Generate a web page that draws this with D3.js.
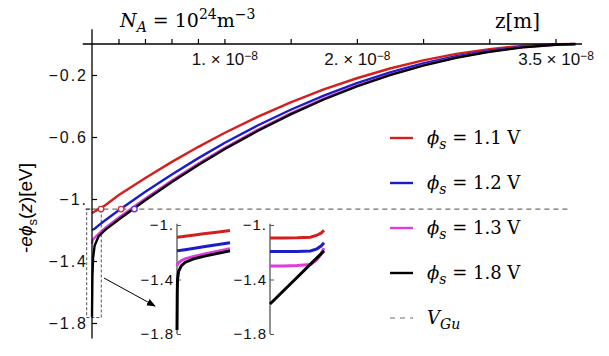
<!DOCTYPE html>
<html>
<head>
<meta charset="utf-8">
<script src="https://cdn.jsdelivr.net/npm/d3@7"></script>
<style>
  body { margin: 0; background: #fff; }
  svg { display: block; }
  .tick text { font-family: "Liberation Sans", Arial, sans-serif; font-size: 16px; fill: #111; }
  .serif { font-family: "DejaVu Serif", "Liberation Serif", serif; }
</style>
</head>
<body>
<svg width="609" height="356"></svg>
<script>
// z in units of 1e-8 m, potential in eV
var zMain = [0, 0.003, 0.008, 0.02, 0.05, 0.1, 0.2, 0.4, 0.6, 0.8, 1.0, 1.25, 1.5, 1.75, 2.0, 2.25, 2.5, 2.75, 3.0, 3.25, 3.5, 3.65];
var red11 = [-1.09, -1.089, -1.087, -1.081, -1.066, -1.04, -0.976, -0.866, -0.762, -0.665, -0.574, -0.470, -0.377, -0.293, -0.221, -0.158, -0.106, -0.064, -0.033, -0.012, -0.002, 0];
var blue12 = [-1.20, -1.199, -1.197, -1.192, -1.17, -1.137, -1.074, -0.955, -0.843, -0.738, -0.639, -0.526, -0.424, -0.333, -0.253, -0.184, -0.126, -0.079, -0.043, -0.018, -0.004, 0];
var mag13 = [-1.29, -1.27, -1.26, -1.25, -1.225, -1.186, -1.121, -0.998, -0.882, -0.773, -0.671, -0.553, -0.448, -0.353, -0.269, -0.197, -0.136, -0.086, -0.048, -0.021, -0.005, -0.001];
var blk18 = [-1.76, -1.50, -1.38, -1.30, -1.24, -1.199, -1.134, -1.010, -0.892, -0.782, -0.679, -0.561, -0.454, -0.358, -0.274, -0.201, -0.139, -0.089, -0.050, -0.022, -0.005, -0.001];

// first inset: linear z, 0 .. 1e-9 m
var zIn1 = [0, 0.0005, 0.001, 0.003, 0.008, 0.015, 0.03, 0.05, 0.075, 0.1];
var red11In1 = [-1.09, -1.0898, -1.0895, -1.0885, -1.086, -1.0825, -1.075, -1.065, -1.0525, -1.04];
var blue12In1 = [-1.19, -1.1897, -1.1894, -1.1882, -1.1852, -1.181, -1.172, -1.16, -1.145, -1.13];
var mag13In1 = [-1.30, -1.295, -1.29, -1.278, -1.262, -1.248, -1.232, -1.215, -1.195, -1.175];
var blk18In1 = [-1.77, -1.50, -1.40, -1.34, -1.30, -1.275, -1.25, -1.23, -1.21, -1.19];

// second inset: log z in metres
var zIn2 = [1e-13, 1e-12, 1e-11, 1e-10, 3e-10, 6e-10, 1e-9];
var red11In2 = [-1.095, -1.095, -1.094, -1.09, -1.075, -1.06, -1.04];
var blue12In2 = [-1.195, -1.195, -1.194, -1.19, -1.175, -1.155, -1.13];
var mag13In2 = [-1.30, -1.30, -1.298, -1.29, -1.255, -1.215, -1.17];
var blk18In2 = [-1.58, -1.4825, -1.385, -1.2875, -1.241, -1.212, -1.19];

var vGu = -1.065;
var markerZ = [0.068, 0.22, 0.32];
var markerColors = ['#d42a2a', '#c8304a', '#5a30e0'];

var seriesNames = ['1.1', '1.2', '1.3', '1.8'];
var seriesColors = ['#d41f1f', '#1c1cc8', '#e03ae0', '#000000'];

var xTicks = [0.2, 0.4, 0.6, 0.8, 1.0, 1.5, 2.0, 2.5, 3.0, 3.5];
var xTickLabels = {1.0: '1.', 2.0: '2.', 3.5: '3.5'};
var yTicks = [-0.2, -0.6, -1.0, -1.4, -1.8];
var insetTicks = [-1.0, -1.4, -1.8];

var svg = d3.select('svg');

/**
 * Scales
 */
var xScale = d3.scaleLinear().domain([0, 3.7]).range([92, 582]);
var yScale = d3.scaleLinear().domain([0, -1.9]).range([44, 338.5]);
var in1X = d3.scaleLinear().domain([0, 0.1]).range([177, 230]);
var in2X = d3.scaleLog().domain([1e-13, 1e-9]).range([270, 324]);
var inY = d3.scaleLinear().domain([-1.0, -1.8]).range([225, 334]);

function fmtY(d) {
    return d === -1 ? '\u22121.' : d3.format('.1f')(d);
}

/**
 * Dashed V_Gu line and zoom box
 */
svg.append('line')
    .attr('x1', xScale(-0.05)).attr('x2', xScale(3.62))
    .attr('y1', yScale(vGu)).attr('y2', yScale(vGu))
    .attr('stroke', '#6e6e6e').attr('stroke-width', 1.3)
    .attr('stroke-dasharray', '5,4');

svg.append('rect')
    .attr('x', xScale(-0.04)).attr('y', yScale(vGu))
    .attr('width', xScale(0.07) - xScale(-0.04))
    .attr('height', yScale(-1.765) - yScale(vGu))
    .attr('fill', 'none').attr('stroke', '#222').attr('stroke-width', 0.8)
    .attr('stroke-dasharray', '3,2');

svg.append('defs').append('marker')
    .attr('id', 'arr').attr('viewBox', '0 0 10 10')
    .attr('refX', 9).attr('refY', 5)
    .attr('markerWidth', 9).attr('markerHeight', 9)
    .attr('orient', 'auto')
    .append('path').attr('d', 'M0,1 L10,5 L0,9 z').attr('fill', '#000');

svg.append('line')
    .attr('x1', 104).attr('y1', 278).attr('x2', 155).attr('y2', 306)
    .attr('stroke', '#000').attr('stroke-width', 1)
    .attr('marker-end', 'url(#arr)');

/**
 * Main curves
 */
var mainSeries = [red11, blue12, mag13, blk18];
var line = d3.line()
    .x(function(d, i){ return xScale(zMain[i]); })
    .y(function(d){ return yScale(d); });

svg.selectAll('.main-curve')
    .data(mainSeries)
    .enter()
    .append('path')
    .attr('class', 'main-curve')
    .attr('d', line)
    .attr('fill', 'none')
    .attr('stroke', function(d, i){ return seriesColors[i]; })
    .attr('stroke-width', 2.4);

svg.selectAll('.marker')
    .data(markerZ)
    .enter()
    .append('circle')
    .attr('cx', function(d){ return xScale(d); })
    .attr('cy', yScale(vGu))
    .attr('r', 2.8)
    .attr('fill', '#fff')
    .attr('stroke', function(d, i){ return markerColors[i]; })
    .attr('stroke-width', 1.3);

/**
 * Main axes
 */
svg.append('line')
    .attr('x1', xScale(-0.07)).attr('x2', xScale(3.7))
    .attr('y1', yScale(0)).attr('y2', yScale(0))
    .attr('stroke', '#000').attr('stroke-width', 1.3);
svg.append('line')
    .attr('x1', xScale(0)).attr('x2', xScale(0))
    .attr('y1', yScale(0.095)).attr('y2', yScale(-1.9))
    .attr('stroke', '#000').attr('stroke-width', 1.3);

var xAxis = d3.axisBottom(xScale)
    .tickValues(xTicks)
    .tickSizeInner(-5).tickSizeOuter(0)
    .tickPadding(9)
    .tickFormat(function(d){ return xTickLabels[d] ? xTickLabels[d] : ''; });
var gx = svg.append('g')
    .attr('transform', 'translate(0,' + yScale(0) + ')')
    .call(xAxis);
gx.select('.domain').remove();
gx.selectAll('.tick line').attr('stroke', '#000').attr('stroke-width', 1.2);
gx.selectAll('.tick text').style('font-size', '17px').each(function(d){
    var t = d3.select(this);
    if (!xTickLabels[d]) return;
    t.text(null);
    t.append('tspan').text(xTickLabels[d] + ' \u00d7 10');
    t.append('tspan').attr('dy', '-0.45em').style('font-size', '12px').text('\u22128');
});

var yAxis = d3.axisLeft(yScale)
    .tickValues(yTicks)
    .tickSizeInner(-5).tickSizeOuter(0)
    .tickPadding(4)
    .tickFormat(fmtY);
var gy = svg.append('g')
    .attr('transform', 'translate(' + xScale(0) + ',0)')
    .call(yAxis);
gy.select('.domain').remove();
gy.selectAll('.tick line').attr('stroke', '#000').attr('stroke-width', 1.2);
gy.selectAll('.tick text').style('font-size', '16px').style('letter-spacing', '2px');

/**
 * Insets
 */
function drawInset(xs, zs, series, axisX) {
    var l = d3.line()
        .x(function(d, i){ return xs(zs[i]); })
        .y(function(d){ return inY(d); });
    svg.append('line')
        .attr('x1', axisX).attr('x2', axisX)
        .attr('y1', inY(-0.99)).attr('y2', inY(-1.8))
        .attr('stroke', '#555').attr('stroke-width', 1.3);
    var ax = d3.axisLeft(inY)
        .tickValues(insetTicks)
        .tickSizeInner(-4).tickSizeOuter(0)
        .tickPadding(3)
        .tickFormat(fmtY);
    var g = svg.append('g')
        .attr('transform', 'translate(' + axisX + ',0)')
        .call(ax);
    g.select('.domain').remove();
    g.selectAll('.tick line').attr('stroke', '#555');
    g.selectAll('.tick text').style('font-size', '15px').style('letter-spacing', '1px');
    svg.append('g').selectAll('path')
        .data(series)
        .enter()
        .append('path')
        .attr('d', l)
        .attr('fill', 'none')
        .attr('stroke', function(d, i){ return seriesColors[i]; })
        .attr('stroke-width', 3);
}
drawInset(in1X, zIn1, [red11In1, blue12In1, mag13In1, blk18In1], in1X(0));
drawInset(in2X, zIn2, [red11In2, blue12In2, mag13In2, blk18In2], in2X(1e-13));

/**
 * Legend
 */
var legend = svg.append('g').attr('transform', 'translate(390,138)');
var rows = legend.selectAll('g')
    .data(seriesNames)
    .enter()
    .append('g')
    .attr('transform', function(d, i){ return 'translate(0,' + (i * 45) + ')'; });
rows.append('line')
    .attr('x1', 0).attr('x2', 23)
    .attr('stroke', function(d, i){ return seriesColors[i]; })
    .attr('stroke-width', 2.4);
var lt = rows.append('text')
    .attr('class', 'serif')
    .attr('x', 37).attr('y', 6)
    .style('font-size', '18px');
lt.append('tspan').style('font-style', 'italic').text('\u03d5');
lt.append('tspan').style('font-style', 'italic').style('font-size', '14px').attr('dy', 5).text('s');
lt.append('tspan').attr('dy', -5).text(function(d){ return ' = ' + d + ' V'; });

var vrow = legend.append('g').attr('transform', 'translate(0,' + (4 * 45) + ')');
vrow.append('line')
    .attr('x1', 0).attr('x2', 23)
    .attr('stroke', '#6e6e6e').attr('stroke-width', 1.2)
    .attr('stroke-dasharray', '5,5');
var vt = vrow.append('text')
    .attr('class', 'serif')
    .attr('x', 37).attr('y', 6)
    .style('font-size', '18px');
vt.append('tspan').style('font-style', 'italic').text('V');
vt.append('tspan').style('font-style', 'italic').style('font-size', '14px').attr('dy', 5).text('Gu');

/**
 * Labels
 */
var na = svg.append('text')
    .attr('class', 'serif')
    .attr('x', 120).attr('y', 27)
    .style('font-size', '19px');
na.append('tspan').style('font-style', 'italic').text('N');
na.append('tspan').style('font-style', 'italic').style('font-size', '14px').attr('dy', 5).text('A');
na.append('tspan').attr('dy', -5).text(' = 10');
na.append('tspan').style('font-size', '14px').attr('dy', -8).text('24');
na.append('tspan').attr('dy', 8).text('m');
na.append('tspan').style('font-size', '14px').attr('dy', -8).text('\u22123');

svg.append('text')
    .attr('class', 'serif')
    .attr('x', 495).attr('y', 28)
    .style('font-size', '20px')
    .text('z[m]');

var yl = svg.append('text')
    .attr('transform', 'translate(32,208) rotate(-90)')
    .style('text-anchor', 'middle')
    .style('font-family', '"Liberation Sans", Arial, sans-serif')
    .style('font-size', '19px');
yl.append('tspan').text('-');
yl.append('tspan').style('font-style', 'italic').text('e\u03d5');
yl.append('tspan').style('font-size', '13px').attr('dy', 5).text('s');
yl.append('tspan').attr('dy', -5).text('(');
yl.append('tspan').style('font-style', 'italic').text('z');
yl.append('tspan').text(')[eV]');
</script>
</body>
</html>
